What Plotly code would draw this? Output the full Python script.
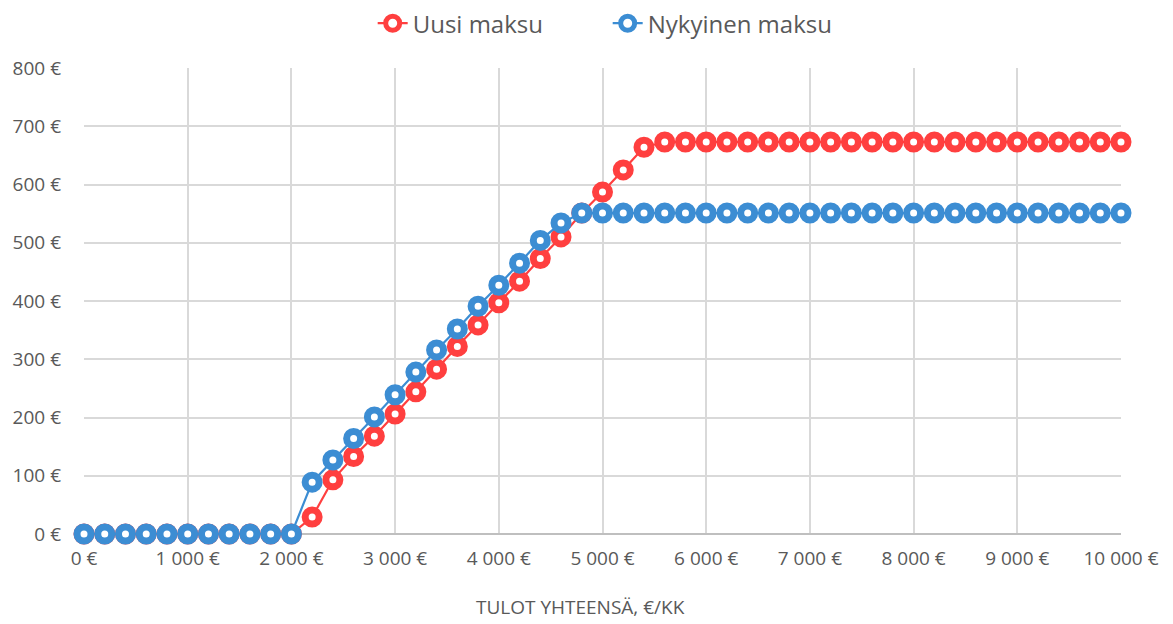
import plotly.graph_objects as go

income = list(range(0, 10001, 200))

uusi = [0]*11 + [29, 93, 133, 168, 206, 244, 283, 322, 359, 397, 434, 473, 510, 551,
                 587, 625, 664] + [673]*23
nykyinen = [0]*11 + [89, 127, 164, 201, 239, 278, 316, 352, 391, 427, 465, 504, 534, 551] + [551]*26

xtick_vals = list(range(0, 10001, 1000))
xtick_text = ["0 €", "1 000 €", "2 000 €", "3 000 €", "4 000 €", "5 000 €",
              "6 000 €", "7 000 €", "8 000 €", "9 000 €", "10 000 €"]
ytick_vals = list(range(0, 801, 100))
ytick_text = [f"{v} €" for v in ytick_vals]
x_title = "TULOT YHTEENSÄ, €/KK"

red = "#FF3F3F"
blue = "#3C8DD3"

fig = go.Figure()
fig.add_trace(go.Scatter(
    x=income, y=uusi, name="Uusi maksu", mode="lines+markers",
    line=dict(color=red, width=2.2),
    marker=dict(symbol="circle", size=14, color="white", line=dict(color=red, width=7)),
    cliponaxis=False,
))
fig.add_trace(go.Scatter(
    x=income, y=nykyinen, name="Nykyinen maksu", mode="lines+markers",
    line=dict(color=blue, width=2.2),
    marker=dict(symbol="circle", size=14, color="white", line=dict(color=blue, width=7)),
    cliponaxis=False,
))

font_family = "'Open Sans', sans-serif"
fig.update_layout(
    width=1173, height=624,
    paper_bgcolor="white", plot_bgcolor="white",
    margin=dict(l=76, r=60, t=60, b=98),
    font=dict(family=font_family, color="#595959", size=20),
    showlegend=True,
    legend=dict(orientation="h", x=0.505, xanchor="center", y=0.975, yanchor="middle",
                yref="container", font=dict(size=24, color="#595959"),
                traceorder="normal", entrywidth=190, entrywidthmode="pixels"),
    xaxis=dict(range=[0, 10000], tickvals=xtick_vals, ticktext=xtick_text,
               showgrid=True, gridcolor="#D9D9D9", gridwidth=1.5, automargin=False,
               zeroline=False, showline=False, ticks="", ticklabelstandoff=11,
               tickfont=dict(size=19, color="#595959")),
    yaxis=dict(range=[0, 800], tickvals=ytick_vals, ticktext=ytick_text,
               showgrid=True, gridcolor="#D9D9D9", gridwidth=1.5, automargin=False,
               zeroline=True, zerolinecolor="#BFBFBF", zerolinewidth=2,
               showline=False, ticks="", ticklabelstandoff=22,
               tickfont=dict(size=19, color="#595959")),
    annotations=[dict(text=x_title, xref="paper", yref="paper", x=0.479, y=-0.157,
                      xanchor="center", yanchor="middle", showarrow=False,
                      font=dict(size=19, color="#595959"))],
)

fig.write_html("out.html")
